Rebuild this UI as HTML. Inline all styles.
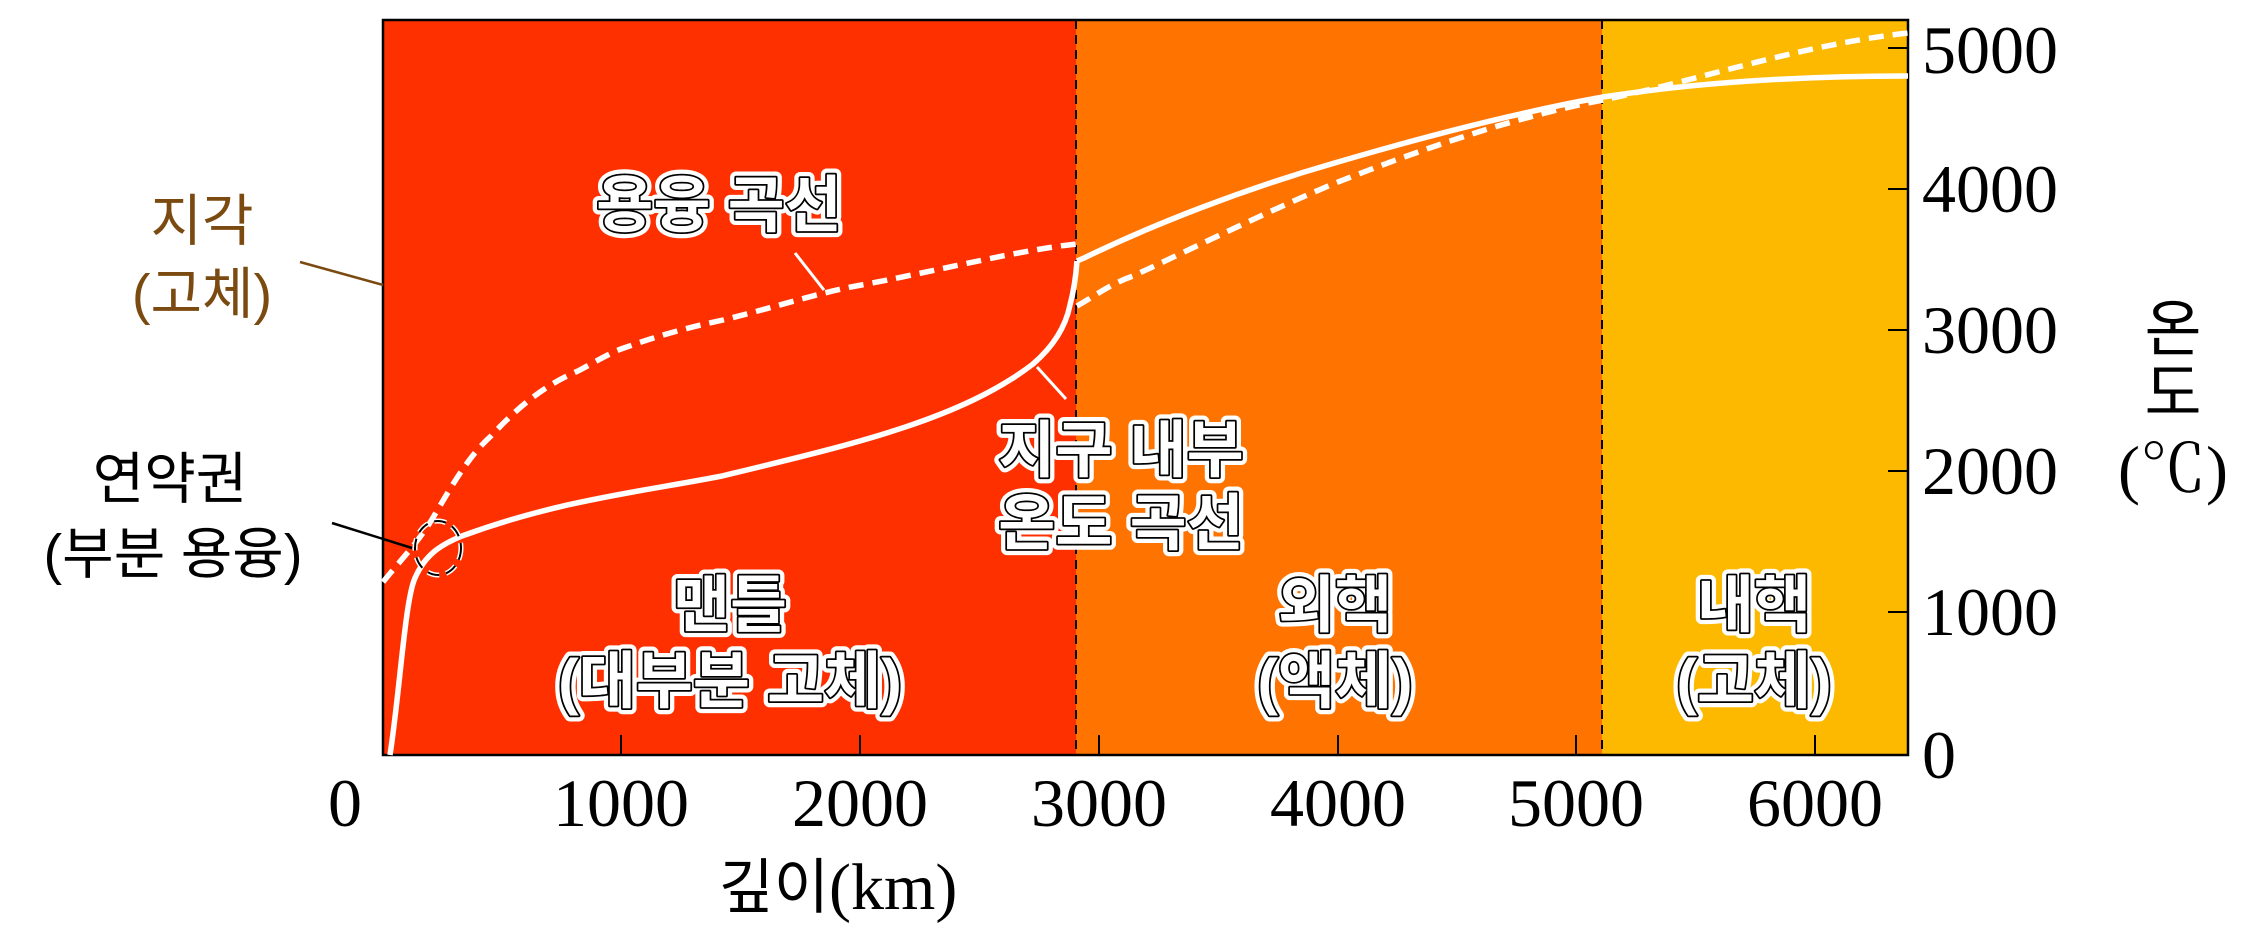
<!DOCTYPE html>
<html><head><meta charset="utf-8"><style>
html,body{margin:0;padding:0;background:#fff}
svg{display:block}
.k{font-family:"Liberation Sans","Noto Sans CJK KR","NanumGothic",sans-serif}
.s{font-family:"Liberation Serif","Noto Serif CJK SC",serif}
.halo{fill:#fff;stroke:#fff;stroke-width:12;stroke-linejoin:round}
.lab{fill:#fff;stroke:#000;stroke-width:3.5;paint-order:stroke;stroke-linejoin:round}
</style></head><body>
<svg width="2266" height="944" viewBox="0 0 2266 944" xmlns="http://www.w3.org/2000/svg">
<rect x="383" y="20" width="693" height="735" fill="#ff3000"/>
<rect x="1076" y="20" width="526" height="735" fill="#ff7300"/>
<rect x="1602" y="20" width="306" height="735" fill="#fdb800"/>
<line x1="1076" y1="20" x2="1076" y2="755" stroke="#000" stroke-width="2" stroke-dasharray="9,6"/>
<line x1="1602" y1="20" x2="1602" y2="755" stroke="#000" stroke-width="2" stroke-dasharray="9,6"/>
<g stroke="#000" stroke-width="2">
<line x1="621" y1="755" x2="621" y2="735"/><line x1="860" y1="755" x2="860" y2="735"/>
<line x1="1099" y1="755" x2="1099" y2="735"/><line x1="1338" y1="755" x2="1338" y2="735"/>
<line x1="1576" y1="755" x2="1576" y2="735"/><line x1="1815" y1="755" x2="1815" y2="735"/>
<line x1="1908" y1="612" x2="1888" y2="612"/><line x1="1908" y1="471" x2="1888" y2="471"/>
<line x1="1908" y1="330" x2="1888" y2="330"/><line x1="1908" y1="189" x2="1888" y2="189"/>
<line x1="1908" y1="48" x2="1888" y2="48"/>
</g>
<rect x="383" y="20" width="1525" height="735" fill="none" stroke="#000" stroke-width="2.5"/>
<g fill="none" stroke="#fff" stroke-width="5.5" stroke-linecap="butt">
<path d="M390,755 C400,690 405,600 415,578 C425,555 440,545 462,536 C560,500 640,492 722,476 C850,445 960,420 1033,364 C1055,345 1066,325 1070,305 C1074,290 1076,275 1077,261"/>
<path d="M1077,261 L1084,258 C1150,226 1240,190 1338,162 C1430,135 1520,112 1603,97 C1700,82 1800,76 1908,76"/>
<g stroke-dasharray="15,9">
<path d="M383,582 C405,555 420,540 434,516 C455,480 470,455 491,436 C520,405 545,385 578,371 C595,362 608,354 621,349 C660,335 690,327 723,320 C780,306 820,292 867,284 C950,268 1020,250 1077,244"/>
<path d="M1077,306 C1095,296 1110,284 1133,276 C1200,245 1270,210 1338,182 C1420,150 1510,118 1603,100 C1700,80 1800,45 1908,33"/>
</g>
</g>
<ellipse cx="438" cy="548" rx="23" ry="27" fill="none" stroke="#fff" stroke-width="5" stroke-dasharray="12,7"/>
<ellipse cx="438" cy="548" rx="23" ry="27" fill="none" stroke="#000" stroke-width="2" stroke-dasharray="12,7"/>
<line x1="300" y1="262" x2="383" y2="285" stroke="#7a4a10" stroke-width="2.5"/>
<line x1="332" y1="523" x2="412" y2="548" stroke="#000" stroke-width="2.5"/>
<line x1="795" y1="253" x2="824" y2="290" stroke="#fff" stroke-width="3"/>
<line x1="1037" y1="367" x2="1066" y2="399" stroke="#fff" stroke-width="3"/>
<g class="k" font-size="56" text-anchor="middle" dominant-baseline="central">
<text x="202" y="221" fill="#7a4a10">지각</text>
<text x="202" y="294" fill="#7a4a10">(고체)</text>
<text x="170" y="479" fill="#000">연약권</text>
<text x="173" y="554" fill="#000">(부분 용융)</text>
</g>
<g class="k" font-size="62" font-weight="bold" text-anchor="middle" dominant-baseline="central">
<g class="halo">
<text x="719" y="206">용융 곡선</text>
<text x="1121" y="451">지구 내부</text><text x="1121" y="524">온도 곡선</text>
<text x="730" y="606">맨틀</text><text x="730" y="682">(대부분 고체)</text>
<text x="1335" y="606">외핵</text><text x="1335" y="682">(액체)</text>
<text x="1754" y="606">내핵</text><text x="1754" y="682">(고체)</text>
</g>
<g class="lab">
<text x="719" y="206">용융 곡선</text>
<text x="1121" y="451">지구 내부</text><text x="1121" y="524">온도 곡선</text>
<text x="730" y="606">맨틀</text><text x="730" y="682">(대부분 고체)</text>
<text x="1335" y="606">외핵</text><text x="1335" y="682">(액체)</text>
<text x="1754" y="606">내핵</text><text x="1754" y="682">(고체)</text>
</g>
</g>
<g class="s" font-size="68" fill="#000" text-anchor="middle" dominant-baseline="central">
<text x="345" y="803">0</text><text x="621" y="803">1000</text><text x="860" y="803">2000</text>
<text x="1099" y="803">3000</text><text x="1338" y="803">4000</text><text x="1576" y="803">5000</text>
<text x="1815" y="803">6000</text>
</g>
<g class="s" font-size="68" fill="#000" dominant-baseline="central">
<text x="1922" y="755">0</text><text x="1922" y="612">1000</text><text x="1922" y="471">2000</text>
<text x="1922" y="330">3000</text><text x="1922" y="189">4000</text><text x="1922" y="50">5000</text>
</g>
<text x="838" y="887" text-anchor="middle" dominant-baseline="central" fill="#000"><tspan class="k" font-size="60">깊이</tspan><tspan class="s" font-size="66">(km)</tspan></text>
<g font-size="62" text-anchor="middle" dominant-baseline="central" fill="#000">
<text class="k" x="2173" y="330">온</text>
<text class="k" x="2173" y="394">도</text>
<text class="s" x="2173" y="470" font-size="66">(℃)</text>
</g>
</svg>
</body></html>
